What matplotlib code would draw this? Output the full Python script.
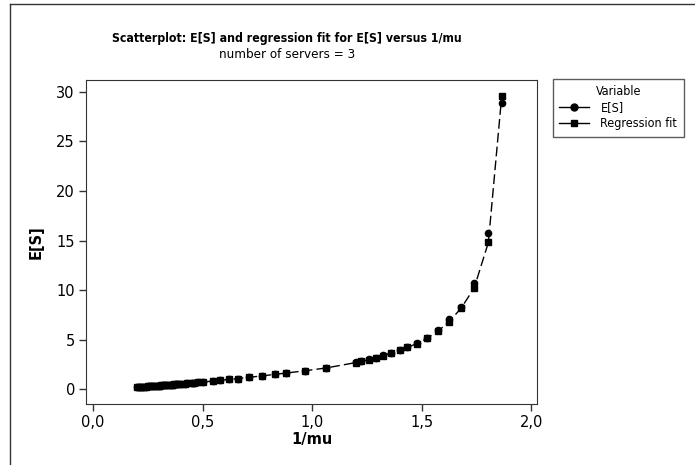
import matplotlib
matplotlib.use('Agg')
import matplotlib.pyplot as plt
from matplotlib.lines import Line2D
from matplotlib.ticker import FuncFormatter

plt.rcParams['font.family'] = ['DejaVu Sans']

# ---- data ----
inv_mu = [0.20, 0.21, 0.22, 0.23, 0.24, 0.25, 0.26, 0.27, 0.28, 0.29,
          0.30, 0.31, 0.32, 0.33, 0.34, 0.35, 0.36, 0.37, 0.38, 0.39,
          0.40, 0.42, 0.43, 0.45, 0.46, 0.48, 0.50, 0.55, 0.58, 0.62,
          0.66, 0.71, 0.77, 0.83, 0.88, 0.97, 1.065, 1.20, 1.225, 1.26,
          1.29, 1.325, 1.36, 1.40, 1.435, 1.48, 1.525, 1.575, 1.625, 1.68,
          1.74, 1.805, 1.866]
es = [0.20, 0.21, 0.23, 0.24, 0.26, 0.27, 0.29, 0.30, 0.32, 0.33,
      0.35, 0.36, 0.38, 0.40, 0.41, 0.43, 0.45, 0.46, 0.48, 0.50,
      0.52, 0.56, 0.58, 0.62, 0.64, 0.68, 0.72, 0.82, 0.90, 0.98,
      1.07, 1.20, 1.33, 1.50, 1.62, 1.85, 2.15, 2.70, 2.85, 3.00,
      3.15, 3.40, 3.65, 3.92, 4.25, 4.62, 5.15, 5.92, 7.10, 8.30,
      10.7, 15.8, 28.9]
fit = [0.22, 0.23, 0.24, 0.25, 0.26, 0.28, 0.29, 0.31, 0.32, 0.34,
       0.35, 0.37, 0.38, 0.40, 0.42, 0.43, 0.45, 0.47, 0.48, 0.50,
       0.52, 0.56, 0.58, 0.62, 0.64, 0.68, 0.72, 0.82, 0.89, 0.98,
       1.07, 1.19, 1.33, 1.49, 1.62, 1.86, 2.14, 2.68, 2.80, 2.97,
       3.13, 3.38, 3.62, 3.90, 4.22, 4.60, 5.12, 5.85, 6.80, 8.15,
       10.2, 14.8, 29.6]
xticks = [0.0, 0.5, 1.0, 1.5, 2.0]
yticks = [0, 5, 10, 15, 20, 25, 30]

fig = plt.figure(figsize=(6.95, 4.65), dpi=100)
ax = fig.add_axes([86/695, 61/465, 451/695, 324/465])

ax.plot(inv_mu, fit, color='black', linestyle=(0, (7, 3)), linewidth=1,
        marker='s', markersize=4.5, zorder=3)
ax.plot(inv_mu, es, color='black', linestyle='none',
        marker='o', markersize=4.5, zorder=4)

ax.set_xlim(-0.032, 2.027)
ax.set_ylim(-1.5, 31.2)
ax.set_xticks(xticks)
ax.set_yticks(yticks)
ax.xaxis.set_major_formatter(FuncFormatter(lambda v, p: f'{v:.1f}'.replace('.', ',')))
ax.tick_params(direction='out', length=5, width=1, labelsize=10.5, color='#333333', pad=3)
for s in ax.spines.values():
    s.set_color('#333333')

ax.set_xlabel('1/mu', fontsize=10.5, fontweight='bold', labelpad=1)
ax.set_ylabel('E[S]', fontsize=10.5, fontweight='bold', labelpad=9)

fig.text(287/695, 1 - 38/465, 'Scatterplot: E[S] and regression fit for E[S] versus 1/mu',
         ha='center', va='center', fontsize=8.8, fontweight='bold', fontstretch='condensed')
fig.text(287/695, 1 - 55/465, 'number of servers = 3',
         ha='center', va='center', fontsize=9.6, fontstretch='condensed')

handles = [Line2D([], [], color='black', marker='o', markersize=5, linewidth=1),
           Line2D([], [], color='black', marker='s', markersize=5, linewidth=1)]
leg = fig.legend(handles, ['E[S]', 'Regression fit'], title='Variable',
                 loc='upper left', bbox_to_anchor=(553/695, 1 - 79/465),
                 prop={'size': 9, 'stretch': 'condensed'},
                 frameon=True, fancybox=False,
                 edgecolor='#333333', borderaxespad=0, handlelength=2.4,
                 handletextpad=0.9, borderpad=0.5, labelspacing=0.25)
leg.get_title().set_fontsize(9)
leg.get_title().set_fontstretch('condensed')
leg.get_frame().set_linewidth(1)

# outer frame of the graph window
fig.add_artist(Line2D([10/695, 10/695], [0, 1 - 4/465], color='#333333', linewidth=1))
fig.add_artist(Line2D([10/695, 1], [1 - 4/465, 1 - 4/465], color='#333333', linewidth=1))

fig.savefig('out.png', dpi=100)
